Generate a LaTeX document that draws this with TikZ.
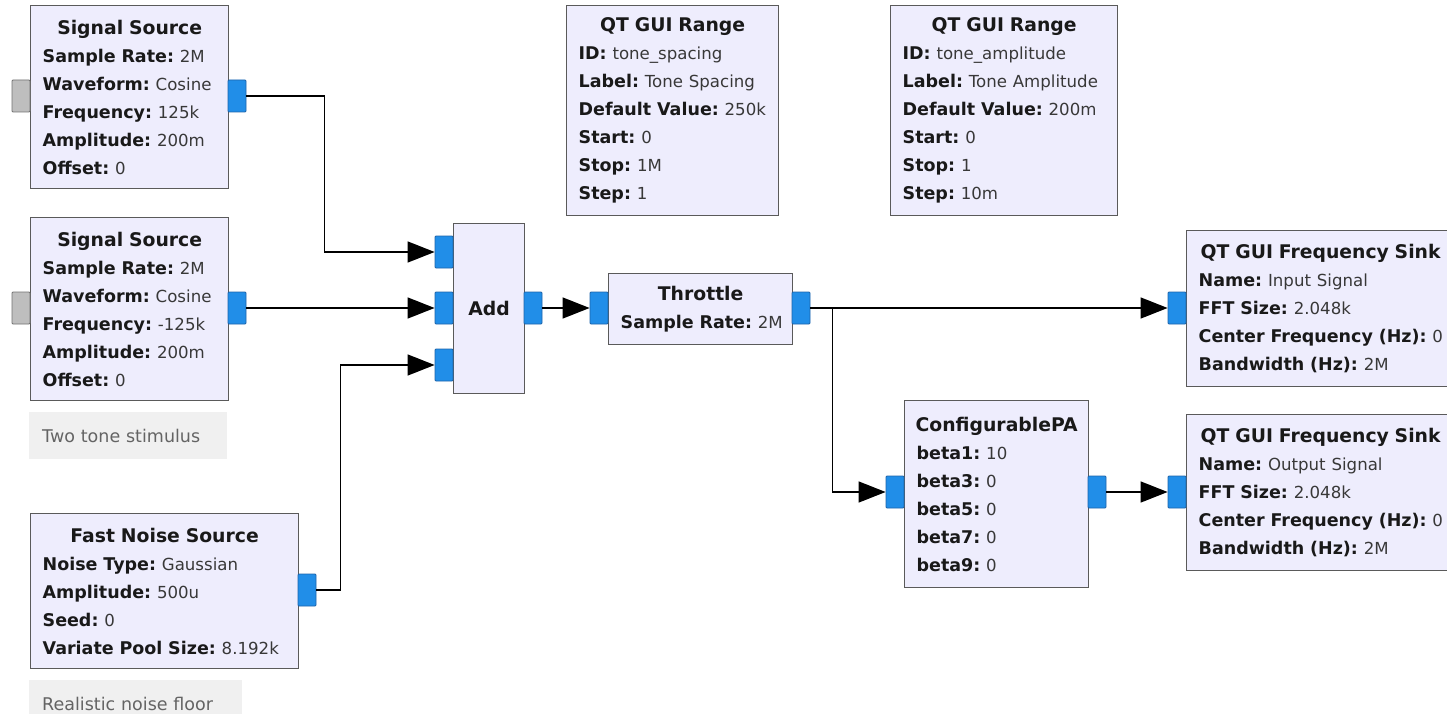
\documentclass[tikz,border=0pt]{standalone}
\usepackage{fontspec}
\setmainfont{DejaVu Sans}
\usetikzlibrary{arrows.meta,positioning,calc}

\definecolor{blockfill}{RGB}{238,237,253}
\definecolor{blockline}{RGB}{90,90,90}
\definecolor{portblue}{RGB}{33,142,232}
\definecolor{portline}{RGB}{30,100,170}
\definecolor{portgray}{RGB}{190,190,190}
\definecolor{notefill}{RGB}{240,240,240}
\definecolor{notetext}{RGB}{100,100,100}

% one "key: value" line of a block
\newcommand\grcparam[2]{\mbox{\textbf{#1:} {\fontsize{16.6}{28}\selectfont\color{black!78}#2}}}
\newcommand\grctitle[1]{\makebox[\linewidth]{\fontsize{18.8}{28}\selectfont\bfseries #1}}

\begin{document}
\frenchspacing
\begin{tikzpicture}[
  x=1pt, y=-1pt,
  block/.style={draw=blockline, fill=blockfill, line width=1.3pt, anchor=north west,
    inner xsep=12pt, inner ysep=0pt, align=left, text=black!90,
    font={\fontsize{17.5}{28}\selectfont}},
  port/.style={draw=portline, fill=portblue, line width=0.8pt, minimum width=18pt,
    minimum height=32pt, inner sep=0pt, rounded corners=1pt},
  deadport/.style={port, draw=black!55, fill=portgray},
  note/.style={fill=notefill, anchor=north west, inner xsep=13pt, inner ysep=0pt,
    align=left, text=notetext, font={\fontsize{17.5}{28}\selectfont}},
  wire/.style={draw=black, line width=1.4pt, -{Triangle[length=27pt, width=21pt]}}
]

\useasboundingbox (0,0) rectangle (1447,714);
\clip (0,0) rectangle (1447,714);
\fill[white] (0,0) rectangle (1447,714);

% sources
\node[block, minimum width=198, minimum height=183, text width=174] (ss1) at (30,5)
  {\grctitle{Signal Source}\\ \grcparam{Sample Rate}{2M}\\ \grcparam{Waveform}{Cosine}\\
   \grcparam{Frequency}{125k}\\ \grcparam{Amplitude}{200m}\\ \grcparam{Offset}{0}};
\node[block, minimum width=198, minimum height=183, text width=174] (ss2) at (30,217)
  {\grctitle{Signal Source}\\ \grcparam{Sample Rate}{2M}\\ \grcparam{Waveform}{Cosine}\\
   \grcparam{Frequency}{-125k}\\ \grcparam{Amplitude}{200m}\\ \grcparam{Offset}{0}};
\node[note, minimum width=198, minimum height=47, text width=172] (tone) at (29,412)
  {Two tone stimulus};

\node[block, minimum width=268, minimum height=155, text width=244] (noise) at (30,513)
  {\grctitle{Fast Noise Source}\\ \grcparam{Noise Type}{Gaussian}\\ \grcparam{Amplitude}{500u}\\
   \grcparam{Seed}{0}\\ \grcparam{Variate Pool Size}{8.192k}};
\node[note, minimum width=213, minimum height=47, text width=187] (floor) at (29,680)
  {Realistic noise floor};

% variables
\node[block, minimum width=212, minimum height=210, text width=188] (rng1) at (566,5)
  {\grctitle{QT GUI Range}\\ \grcparam{ID}{tone\_spacing}\\ \grcparam{Label}{Tone Spacing}\\
   \grcparam{Default Value}{250k}\\ \grcparam{Start}{0}\\ \grcparam{Stop}{1M}\\ \grcparam{Step}{1}};
\node[block, minimum width=227, minimum height=210, text width=203] (rng2) at (890,5)
  {\grctitle{QT GUI Range}\\ \grcparam{ID}{tone\_amplitude}\\ \grcparam{Label}{Tone Amplitude}\\
   \grcparam{Default Value}{200m}\\ \grcparam{Start}{0}\\ \grcparam{Stop}{1}\\ \grcparam{Step}{10m}};

% processing chain
\node[block, align=center, minimum width=71, minimum height=170, text width=47] (add) at (453,223)
  {\grctitle{Add}};
\node[block, align=center, minimum width=184, minimum height=71, text width=160] (thr) at (608,273)
  {\grctitle{Throttle}\\ \grcparam{Sample Rate}{2M}};
\node[block, minimum width=184, minimum height=187, text width=160] (pa) at (904,400)
  {\grctitle{ConfigurablePA}\\ \grcparam{beta1}{10}\\ \grcparam{beta3}{0}\\
   \grcparam{beta5}{0}\\ \grcparam{beta7}{0}\\ \grcparam{beta9}{0}};

% sinks
\node[block, minimum width=268, minimum height=156, text width=244] (sink1) at (1186,230)
  {\grctitle{QT GUI Frequency Sink}\\ \grcparam{Name}{Input Signal}\\ \grcparam{FFT Size}{2.048k}\\
   \grcparam{Center Frequency (Hz)}{0}\\ \grcparam{Bandwidth (Hz)}{2M}};
\node[block, minimum width=268, minimum height=156, text width=244] (sink2) at (1186,414)
  {\grctitle{QT GUI Frequency Sink}\\ \grcparam{Name}{Output Signal}\\ \grcparam{FFT Size}{2.048k}\\
   \grcparam{Center Frequency (Hz)}{0}\\ \grcparam{Bandwidth (Hz)}{2M}};

% ports
\node[deadport] (ss1i) at (21,96) {};
\node[port] (ss1o) at (237,96) {};
\node[deadport] (ss2i) at (21,308) {};
\node[port] (ss2o) at (237,308) {};
\node[port] (noiseo) at (307,590) {};
\node[port] (add0) at (444,252) {};
\node[port] (add1) at (444,308) {};
\node[port] (add2) at (444,365) {};
\node[port] (addo) at (533,308) {};
\node[port] (thri) at (599,308) {};
\node[port] (thro) at (801,308) {};
\node[port] (pai) at (895,492) {};
\node[port] (pao) at (1097,492) {};
\node[port] (sink1i) at (1177,308) {};
\node[port] (sink2i) at (1177,492) {};

% connections
\draw[wire] (ss1o.east) -- ++(78,0) |- (add0.west);
\draw[wire] (ss2o.east) -- (add1.west);
\draw[wire] (noiseo.east) -- ++(24,0) |- (add2.west);
\draw[wire] (addo.east) -- (thri.west);
\draw[wire] (thro.east) -- (sink1i.west);
\draw[wire] (thro.east) -- ++(22,0) |- (pai.west);
\draw[wire] (pao.east) -- (sink2i.west);

\end{tikzpicture}
\end{document}
